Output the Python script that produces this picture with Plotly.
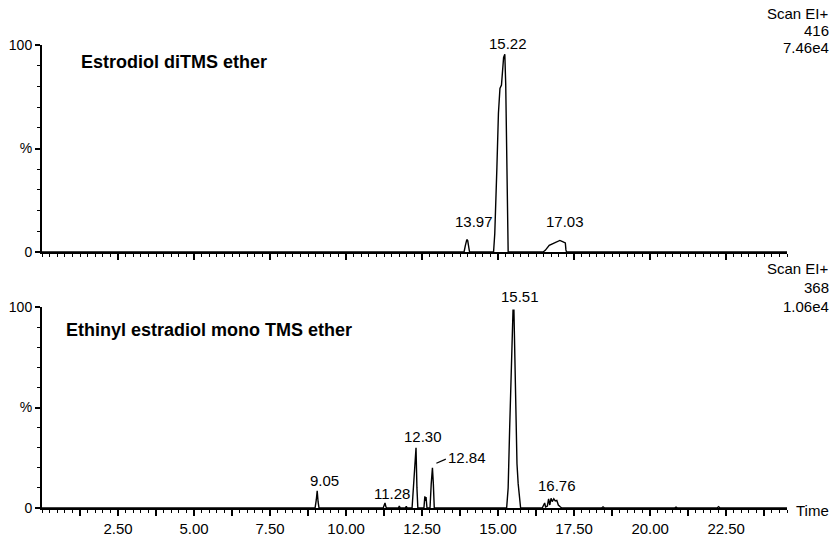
import plotly.graph_objects as go

# ---- Chromatogram data (retention time in min, relative intensity in %) ----
# Upper trace: Estrodiol diTMS ether, m/z 416
top_time = [0.00, 13.88, 13.92, 13.95, 13.97, 14.00, 14.03, 14.06,
            14.85, 14.89, 14.96, 15.01, 15.06, 15.11, 15.18, 15.22, 15.25, 15.28, 15.30, 15.33,
            16.48, 16.55, 16.68, 16.84, 16.95, 17.03, 17.12, 17.21, 17.23, 17.25, 24.50]
top_pct = [0.0, 0.0, 3.0, 5.8, 6.0, 5.5, 1.0, 0.0,
           0.0, 8.9, 41.0, 67.0, 79.0, 80.6, 94.0, 95.5, 81.0, 57.0, 25.0, 0.0,
           0.0, 0.8, 3.2, 4.4, 5.3, 5.6, 5.0, 4.4, 1.0, 0.0, 0.0]

# Lower trace: Ethinyl estradiol mono TMS ether, m/z 368
bot_time = [0.00, 8.98, 9.02, 9.05, 9.08, 9.11,
            11.22, 11.26, 11.28, 11.31, 11.34, 11.72, 11.75, 11.78, 11.95, 11.98, 12.01,
            12.17, 12.21, 12.25, 12.30, 12.33, 12.36,
            12.56, 12.59, 12.61, 12.63, 12.66,
            12.76, 12.80, 12.84, 12.87, 12.90,
            15.28, 15.33, 15.38, 15.44, 15.49, 15.52, 15.56, 15.59, 15.62, 15.66, 15.70, 15.74,
            16.45, 16.50, 16.53, 16.56, 16.62, 16.66, 16.70, 16.74, 16.78, 16.83, 16.88, 16.93,
            16.98, 17.05, 17.10, 18.40, 18.45, 18.50, 20.80, 20.85, 20.90, 22.20, 22.25, 22.30,
            24.50]
bot_pct = [0.0, 0.0, 4.0, 8.5, 3.0, 0.0,
           0.0, 2.2, 2.5, 0.5, 0.0, 0.0, 1.0, 0.0, 0.0, 0.8, 0.0,
           0.0, 10.0, 14.0, 30.0, 10.0, 0.0,
           0.0, 5.8, 3.5, 5.5, 0.0,
           0.0, 12.0, 20.0, 12.0, 0.0,
           0.0, 10.0, 40.0, 80.0, 98.4, 98.4, 70.0, 40.0, 22.0, 12.0, 5.0, 0.0,
           0.0, 1.5, 2.5, 0.5, 1.0, 4.5, 1.5, 4.8, 3.2, 4.6, 3.5, 3.8,
           1.5, 0.5, 0.0, 0.0, 0.6, 0.0, 0.0, 0.5, 0.0, 0.0, 0.7, 0.0,
           0.0]

# Labelled retention times and the label anchor points (time, %)
top_rt_labels = ["13.97", "15.22", "17.03"]
top_label_x = [14.21, 15.34, 17.19]
top_label_y = [14.5, 100.5, 14.5]

bot_rt_labels = ["9.05", "11.28", "12.30", "12.84", "15.51", "16.76"]
bot_label_x = [9.29, 11.51, 12.53, 13.96, 15.71, 16.94]
bot_label_y = [13.7, 7.4, 35.5, 25.0, 105.0, 11.0]

x_tick_vals = [1.25 * k for k in range(1, 20)]
x_tick_text = [f"{v:.2f}" if k % 2 == 0 else "" for k, v in enumerate(x_tick_vals, start=1)]

FONT = "Liberation Sans, Arial, sans-serif"
BLACK = "#000000"

W, H = 833, 538
L, R, T, B = 42, 46, 45, 30
pw, ph = W - L - R, H - T - B


def px_x(px):
    return (px - L) / pw


def px_y(py):
    return (H - B - py) / ph


fig = go.Figure()
fig.add_trace(go.Scatter(x=top_time, y=top_pct, mode="lines",
                         line=dict(color=BLACK, width=1.4), xaxis="x", yaxis="y",
                         hoverinfo="skip", showlegend=False))
fig.add_trace(go.Scatter(x=bot_time, y=bot_pct, mode="lines",
                         line=dict(color=BLACK, width=1.4), xaxis="x2", yaxis="y2",
                         hoverinfo="skip", showlegend=False))

common_x = dict(range=[0, 24.5], showline=True, linecolor=BLACK, linewidth=2,
                ticks="outside", ticklen=6, tickwidth=1.5, tickcolor=BLACK,
                tickmode="array", tickvals=x_tick_vals, ticktext=x_tick_text,
                minor=dict(dtick=0.25, tick0=0, ticks="outside", ticklen=3,
                           tickwidth=1.2, tickcolor=BLACK),
                showgrid=False, zeroline=False, fixedrange=True, automargin=False)
common_y = dict(range=[0, 100], showline=True, linecolor=BLACK, linewidth=2,
                ticks="outside", ticklen=5, tickwidth=1.5, tickcolor=BLACK,
                tickmode="array", tickvals=[0, 50, 100], ticktext=["0", "%", "100"],
                minor=dict(dtick=10, tick0=0, ticks="outside", ticklen=3,
                           tickwidth=1.2, tickcolor=BLACK),
                showgrid=False, zeroline=False, fixedrange=True, automargin=False,
                tickfont=dict(size=14, color=BLACK), ticklabelstandoff=0)

fig.update_layout(
    template="none",
    width=W, height=H,
    margin=dict(l=L, r=R, t=T, b=B, autoexpand=False),
    paper_bgcolor="white", plot_bgcolor="white",
    font=dict(family=FONT, size=15, color=BLACK),
    showlegend=False,
    xaxis=dict(common_x, anchor="y", showticklabels=False),
    yaxis=dict(common_y, domain=[px_y(252), 1.0], anchor="x"),
    xaxis2=dict(common_x, anchor="y2", showticklabels=True,
                tickfont=dict(size=15, color=BLACK)),
    yaxis2=dict(common_y, domain=[0.0, px_y(307)], anchor="x2"),
)

# Retention-time labels above the peaks
for txt, xv, yv in zip(top_rt_labels, top_label_x, top_label_y):
    fig.add_annotation(x=xv, y=yv / 100, xref="x", yref="y domain", text=txt, showarrow=False,
                       font=dict(size=15), xanchor="center", yanchor="middle")
for txt, xv, yv in zip(bot_rt_labels, bot_label_x, bot_label_y):
    fig.add_annotation(x=xv, y=yv / 100, xref="x2", yref="y2 domain", text=txt, showarrow=False,
                       font=dict(size=15), xanchor="center", yanchor="middle")

# Compound names
fig.add_annotation(x=px_x(79), y=px_y(62), xref="paper", yref="paper",
                   text="<b>Estrodiol diTMS ether</b>", showarrow=False,
                   xanchor="left", yanchor="middle", font=dict(size=18))
fig.add_annotation(x=px_x(64), y=px_y(330), xref="paper", yref="paper",
                   text="<b>Ethinyl estradiol mono TMS ether</b>", showarrow=False,
                   xanchor="left", yanchor="middle", font=dict(size=18))

# Scan header texts at the right, and the time-axis title
for lines, ys in ((["Scan EI+", "416", "7.46e4"], [13, 30.5, 47.5]),
                  (["Scan EI+", "368", "1.06e4"], [268, 287, 306])):
    for txt, py in zip(lines, ys):
        fig.add_annotation(x=px_x(831), y=px_y(py), xref="paper", yref="paper",
                           text=txt, showarrow=False, xanchor="right", yanchor="middle",
                           font=dict(size=15))
fig.add_annotation(x=px_x(794), y=px_y(510), xref="paper", yref="paper",
                   text="Time", showarrow=False, xanchor="left", yanchor="middle",
                   font=dict(size=15))

# Leader line from the 12.84 label to its peak
fig.add_shape(type="line", xref="x2", yref="y2", x0=12.97, y0=22.3, x1=13.28, y1=24.3,
              line=dict(color=BLACK, width=1.2))

fig.write_html("out.html", config={"displayModeBar": False})
